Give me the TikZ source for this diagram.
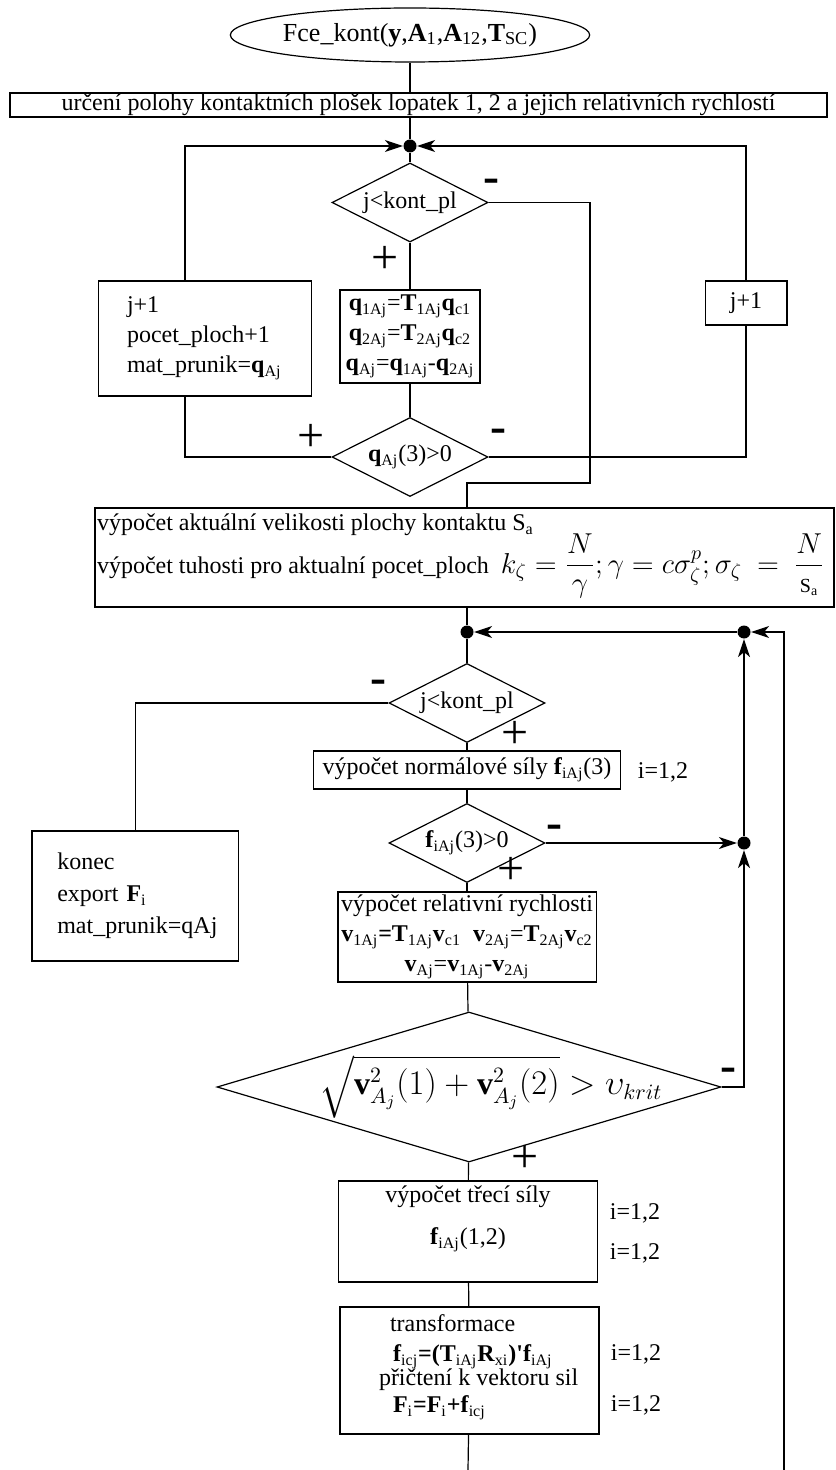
\documentclass[tikz,border=0pt]{standalone}
\usepackage{amsmath}
\usepackage{fontspec}
\setmainfont{Liberation Serif}
\usetikzlibrary{shapes.geometric,arrows.meta}

\newcommand{\vsub}[2]{\textbf{#1}\textsubscript{#2}}

\begin{document}
\begin{tikzpicture}[x=0.5pt, y=-0.5pt, line width=0.6pt,
  every node/.style={font=\fontsize{12}{15}\selectfont},
  startnode/.style={ellipse, draw, minimum width=165pt, minimum height=27pt, inner sep=0pt, font=\fontsize{13}{15}\selectfont},
  flowbox/.style={rectangle, draw, line width=0.75pt},
  decision/.style={diamond, draw, aspect=2, inner sep=0pt, minimum width=78pt, minimum height=39.5pt},
  bigdec/.style={aspect=3.36, inner sep=-6pt, minimum width=252pt, minimum height=75pt, font=\fontsize{16}{18}\selectfont},
  dotnode/.style={circle, fill, inner sep=0pt, minimum size=6.5pt},
  plusmark/.style={inner sep=0pt, font=\fontsize{24}{24}\selectfont},
  minusmark/.style={inner sep=0pt, font=\bfseries\fontsize{24}{24}\selectfont},
  note/.style={inner sep=0pt},
  conn/.style={-{Stealth[length=9pt,width=6pt,inset=2.5pt]}}]

  \useasboundingbox (0,0) rectangle (835,1470);

  % hlavicka funkce
  \node[startnode] (start) at (410,35) {Fce\_kont(\textbf{y},\vsub{A}{1},\vsub{A}{12},\vsub{T}{SC})};
  \node[flowbox, minimum width=408.5pt, minimum height=12pt, inner sep=0pt] (poloha) at (418.5,105) {určení polohy kontaktních plošek lopatek 1, 2 a jejich relativních rychlostí};

  % prvni cyklus pres kontaktni plosky
  \node[dotnode] (d1) at (410,146) {};
  \node[decision] (dA) at (410,202.5) {j<kont\_pl};
  \node[flowbox, minimum width=70pt, minimum height=46.5pt, align=center, inner sep=1pt] (qcalc) at (410,336.5) {\vsub{q}{1Aj}=\vsub{T}{1Aj}\vsub{q}{c1}\\ \vsub{q}{2Aj}=\vsub{T}{2Aj}\vsub{q}{c2}\\ \vsub{q}{Aj}=\vsub{q}{1Aj}-\vsub{q}{2Aj}};
  \node[flowbox, minimum width=106.5pt, minimum height=57.5pt, text width=78pt, align=left] (posun) at (205,338.5) {j+1\\ pocet\_ploch+1\\ mat\_prunik=\vsub{q}{Aj}};
  \node[flowbox, minimum width=40.75pt, minimum height=22pt] (jinc) at (746,303) {j+1};
  \node[decision] (dB) at (410,457) {\vsub{q}{Aj}(3)>0};

  % tuhost kontaktu
  \node[flowbox, inner sep=1pt] (tuhost) at (464.5,557.5) {\parbox[c][47.5pt][t]{367.5pt}{\raggedright\vspace*{2pt}
    výpočet aktuální velikosti plochy kontaktu S\textsubscript{a}\\[-2pt]
    výpočet tuhosti pro aktualní pocet\_ploch \ {\fontsize{14}{16}\selectfont$k_\zeta=\dfrac{N}{\gamma};\gamma=c\sigma_\zeta^p;\sigma_\zeta\ =\ \dfrac{N}{\text{\fontsize{10}{10}\selectfont S\textsubscript{a}}}$}}};

  % druhy cyklus - sily
  \node[dotnode] (d2) at (467,632) {};
  \node[dotnode] (dR) at (744,632) {};
  \node[decision] (dC) at (467,703) {j<kont\_pl};
  \node[flowbox, minimum width=103.25pt, minimum height=65pt, text width=78pt, align=left] (konec) at (135.25,896) {konec\\[1pt] export \vsub{F}{i}\\[1pt] mat\_prunik=qAj};
  \node[flowbox, minimum width=153.5pt, minimum height=19pt, inner sep=1pt] (normal) at (467,770) {výpočet normálové síly \vsub{f}{iAj}(3)};
  \node[decision] (dD) at (467,843) {\vsub{f}{iAj}(3)>0};
  \node[dotnode] (d3) at (744,843) {};
  \node[flowbox, minimum width=129.25pt, minimum height=45pt, align=center, inner sep=1pt] (rel) at (467,937) {výpočet relativní rychlosti\\ \vsub{v}{1Aj}\textbf{=}\vsub{T}{1Aj}\vsub{v}{c1} \ \vsub{v}{2Aj}=\vsub{T}{2Aj}\vsub{v}{c2}\\ \vsub{v}{Aj}=\vsub{v}{1Aj}-\vsub{v}{2Aj}};
  \node[decision, bigdec] (dE) at (469,1087) {\hspace*{22pt}$\sqrt{\mathbf{v}^2_{A_j}(1)+\mathbf{v}^2_{A_j}(2)}>\upsilon_{krit}$};
  \node[flowbox, inner sep=0pt] (treni) at (468,1231.5) {\parbox[c][50.5pt][t]{129.5pt}{\centering\vspace*{2.5pt}
    výpočet třecí síly\\[6pt] \vsub{f}{iAj}(1,2)}};
  \node[flowbox, inner sep=0pt] (transf) at (469.5,1370.5) {\parbox[c][63.5pt][t]{129.5pt}{\raggedright\vspace*{4pt}
    \hspace*{25pt}transformace\\
    \hspace*{26.5pt}\vsub{f}{icj}\textbf{=(T}\textsubscript{iAj}\textbf{R}\textsubscript{xi}\textbf{)\textquotesingle f}\textsubscript{iAj}\\[-3pt]
    \hspace*{19.5pt}přičtení k vektoru sil\\[-1.5pt]
    \hspace*{26.5pt}\vsub{F}{i}\textbf{=}\vsub{F}{i}\textbf{+}\vsub{f}{icj}}};

  % popisky vetveni
  \node[minusmark] (m1) at (491,186) {-};
  \node[plusmark] (p1) at (385,260) {+};
  \node[plusmark] (p2) at (311,438) {+};
  \node[minusmark] (m2) at (498,436) {-};
  \node[minusmark] (m3) at (378,687) {-};
  \node[plusmark] (p3) at (515,735) {+};
  \node[minusmark] (m4) at (554,832) {-};
  \node[plusmark] (p4) at (511,871) {+};
  \node[minusmark] (m5) at (728,1075) {-};
  \node[plusmark] (p5) at (525,1159) {+};

  % indexy
  \node[note] (n1) at (663,772) {i=1,2};
  \node[note] (n2) at (635,1213) {i=1,2};
  \node[note] (n3) at (635,1253) {i=1,2};
  \node[note] (n4) at (636,1354) {i=1,2};
  \node[note] (n5) at (636,1405) {i=1,2};

  % spojnice horni cast
  \draw (start) -- (start |- poloha.north);
  \draw (poloha.south -| d1) -- (d1);
  \draw (d1) -- (dA);
  \draw (dA) -- (qcalc);
  \draw (qcalc) -- (dB);
  \coordinate (cL) at (185,457);
  \draw (dB.west) -- (cL) -- (cL |- posun.south);
  \draw[conn] (cL |- posun.north) |- (d1);
  \draw (dB.east) -| (jinc.south);
  \draw[conn] (jinc.north) |- (d1);
  \coordinate (cM) at (590,483);
  \draw (dA.east) -| (cM) -| (d2 |- tuhost.north);

  % spojnice dolni cast
  \draw (tuhost.south -| d2) -- (d2);
  \draw (d2) -- (dC);
  \draw (dC.west) -| (konec.north);
  \draw (dC) -- (normal);
  \draw (normal) -- (dD);
  \draw[conn] (dD.east) -- (d3);
  \draw (dD) -- (rel);
  \draw (rel) -- (dE);
  \draw[conn] (dE.east) -| (d3);
  \draw[conn] (d3) -- (dR);
  \draw[conn] (dR) -- (d2);
  \coordinate (cB2) at (784,1470);
  \draw[conn] (cB2) |- (dR);
  \draw (dE) -- (treni);
  \draw (treni) -- (transf);
  \coordinate (cB1) at (468,1470);
  \draw (transf) -- (cB1);

\end{tikzpicture}
\end{document}
